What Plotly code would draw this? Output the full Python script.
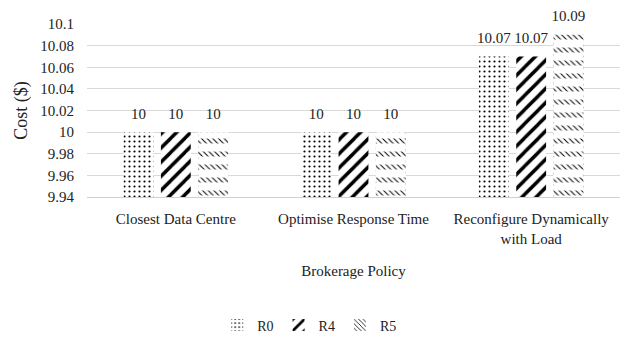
import plotly.graph_objects as go

categories = ["Closest Data Centre", "Optimise Response Time", "Reconfigure Dynamically<br>with Load"]
r0 = [10, 10, 10.07]
r4 = [10, 10, 10.07]
r5 = [10, 10, 10.09]
labels_r0 = ["10", "10", "10.07"]
labels_r4 = ["10", "10", "10.07"]
labels_r5 = ["10", "10", "10.09"]
y_ticks = [9.94, 9.96, 9.98, 10, 10.02, 10.04, 10.06, 10.08, 10.1]

font = "Liberation Serif, serif"
gap = 0.37
clear = "rgba(0,0,0,0)"

series = [
    ("R0", r0, labels_r0, dict(shape=".", size=5, solidity=0.15, fgcolor="black", bgcolor="white", fgopacity=1)),
    ("R4", r4, labels_r4, dict(shape="/", size=10, solidity=0.35, fgcolor="black", bgcolor="white", fgopacity=1)),
    ("R5", r5, labels_r5, dict(shape="\\", size=4, solidity=0.25, fgcolor="black", bgcolor="white", fgopacity=1)),
]

fig = go.Figure()
for i, (name, vals, labels, pat) in enumerate(series):
    fig.add_trace(go.Bar(
        name=name, x=categories, y=vals, offsetgroup=str(i),
        marker=dict(color="white", pattern=pat, line=dict(width=0)),
    ))
    if name == "R5":
        # white horizontal bands break the hatching into short rows of dashes
        fig.add_trace(go.Bar(
            x=categories, y=vals, offsetgroup=str(i), showlegend=False, hoverinfo="skip",
            marker=dict(color=clear, line=dict(width=0),
                        pattern=dict(shape="-", size=13, solidity=0.62, fgcolor="white",
                                     bgcolor=clear, fgopacity=1)),
        ))
    # value labels, grouped alongside the bars
    fig.add_trace(go.Scatter(
        x=categories, y=vals, offsetgroup=str(i), mode="markers+text",
        text=labels, textposition="top center", cliponaxis=False,
        textfont=dict(family=font, size=15, color="#222"),
        marker=dict(size=14, opacity=0), showlegend=False, hoverinfo="skip",
    ))

fig.update_layout(
    width=627, height=339,
    margin=dict(l=87, r=7, t=24, b=142),
    paper_bgcolor="white", plot_bgcolor="white",
    font=dict(family=font, size=15, color="#222"),
    barmode="group", bargap=gap, bargroupgap=0.2,
    scattermode="group", scattergap=gap,
    showlegend=True,
    legend=dict(orientation="h", xref="container", yref="container",
                x=0.494, xanchor="center", y=0.04, yanchor="middle",
                font=dict(family=font, size=14), itemwidth=30, tracegroupgap=0),
)
fig.update_xaxes(
    title=dict(text="Brokerage Policy", font=dict(family=font, size=15), standoff=19),
    showline=True, linecolor="#d0d0d0", linewidth=1, ticks="",
    tickfont=dict(family=font, size=15), ticklabelstandoff=8,
)
fig.update_yaxes(
    title=dict(text="Cost ($)", font=dict(family=font, size=18), standoff=7),
    range=[9.94, 10.1], tickmode="array",
    tickvals=y_ticks, ticktext=[f"{t:g}" for t in y_ticks],
    showgrid=True, gridcolor="#d9d9d9", gridwidth=1, zeroline=False, showline=False,
    tickfont=dict(family=font, size=15), ticklabelstandoff=12,
)

fig.write_html("out.html")
